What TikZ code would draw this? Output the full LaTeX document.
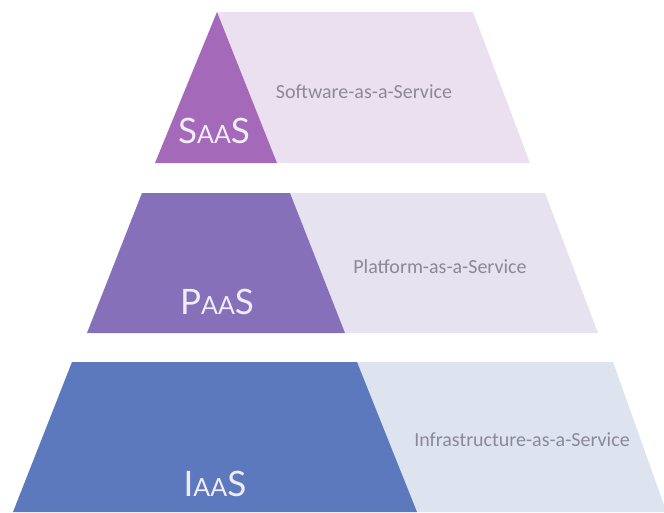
\documentclass[tikz,border=0pt]{standalone}
\usepackage{fontspec}
\setmainfont{Lato}
\newfontfamily\descfont{Carlito}
\usepackage{xcolor}
\definecolor{saasDark}{RGB}{164,105,184}
\definecolor{saasLight}{RGB}{235,224,240}
\definecolor{paasDark}{RGB}{133,112,185}
\definecolor{paasLight}{RGB}{230,226,240}
\definecolor{iaasDark}{RGB}{92,121,190}
\definecolor{iaasLight}{RGB}{222,227,240}
\definecolor{descGray}{RGB}{140,136,152}
\definecolor{capsWhite}{RGB}{240,236,248}
\newcommand{\lowcaps}[1]{{\fontsize{25}{25}\selectfont #1}}

\begin{document}
\begin{tikzpicture}[
  x=1pt, y=-1pt,
  tiername/.style={font=\fontsize{35}{35}\selectfont, text=capsWhite,
                   inner sep=0pt},
  tierdesc/.style={font=\descfont\fontsize{20}{24}\selectfont,
                   text=descGray, inner sep=0pt}
]
  \useasboundingbox (0,0) rectangle (664,512);
  \fill[white] (0,0) rectangle (664,512);

  % top tier
  \fill[saasLight] (217,12) -- (473,12) -- (530,163) -- (277,163) -- cycle;
  \fill[saasDark]  (217,12) -- (277,163) -- (155,163) -- cycle;
  \node[tiername] (saas) at (214,131) {S\lowcaps{AA}S};
  \node[tierdesc] (saasDesc) at (364,92) {Software-as-a-Service};

  % middle tier
  \fill[paasLight] (290,193) -- (545,193) -- (598,333) -- (345,333) -- cycle;
  \fill[paasDark]  (142,193) -- (290,193) -- (345,333) -- (87,333) -- cycle;
  \node[tiername] (paas) at (217,302) {P\lowcaps{AA}S};
  \node[tierdesc] (paasDesc) at (440,267) {Platform-as-a-Service};

  % bottom tier, cut off by the page edge
  \fill[iaasLight] (357,362) -- (613,362) -- (664,505) -- (664,512)
                   -- (417,512) -- cycle;
  \fill[iaasDark]  (72,362) -- (357,362) -- (417,512) -- (13,512) -- cycle;
  \node[tiername] (iaas) at (215,484) {I\lowcaps{AA}S};
  \node[tierdesc] (iaasDesc) at (522,440) {Infrastructure-as-a-Service};
\end{tikzpicture}
\end{document}
